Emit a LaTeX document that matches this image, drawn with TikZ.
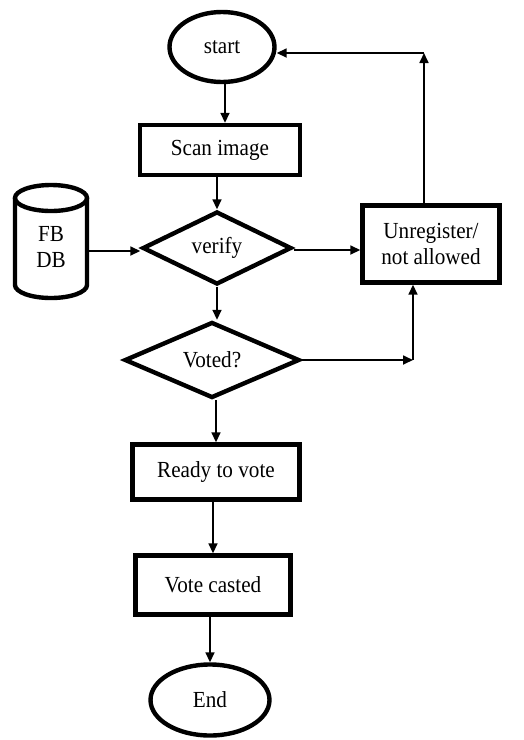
\documentclass[tikz,border=0pt]{standalone}
\usepackage{fontspec}
\setmainfont{Liberation Serif}[FakeStretch=0.92]
\usetikzlibrary{shapes.geometric,arrows.meta}
\begin{document}
\begin{tikzpicture}[x=1pt,y=-1pt,
  every node/.style={font=\fontsize{23}{26}\selectfont, inner sep=0pt},
  term/.style={ellipse, draw, line width=4.4pt},
  procbox/.style={rectangle, draw, line width=4.4pt, align=center},
  decis/.style={diamond, draw, line width=4.4pt, aspect=2},
  arr/.style={line width=1.7pt, -{Triangle[length=10pt,width=9pt]}},
  plain/.style={line width=1.7pt}]
\useasboundingbox (0,0) rectangle (524,740);
\node[term, minimum width=105pt, minimum height=70pt] (start) at (222,47) {start};
\node[procbox, minimum width=160pt, minimum height=50pt] (scan) at (220,150) {Scan image};
\node[decis, minimum width=149pt, minimum height=73pt] (verify) at (217,248) {verify};
\node[procbox, minimum width=137pt, minimum height=77pt] (unreg) at (431,244) {Unregister/\\not allowed};
\node[decis, minimum width=175pt, minimum height=76pt] (voted) at (212,360) {Voted?};
\node[procbox, minimum width=167pt, minimum height=55pt] (ready) at (216,472) {Ready to vote};
\node[procbox, minimum width=155pt, minimum height=59pt] (cast) at (213,585) {Vote casted};
\node[term, minimum width=119pt, minimum height=71pt] (end) at (210,700) {End};
% database cylinder
\node[minimum width=72pt, minimum height=80pt, align=center] (db) at (51,247) {FB\\DB};
\draw[line width=4.4pt] (15,198) -- (15,285) arc[start angle=180, end angle=360, x radius=36pt, y radius=13pt] -- (87,198);
\draw[line width=4.4pt] (51,198) ellipse[x radius=36pt, y radius=13pt];
% connectors
\coordinate (corner) at (424,53);
\coordinate (vright) at (413,360);
\draw[arr] (start.south -| 225,0) -- (scan.north -| 225,0);
\draw[arr] (scan.south -| verify.north) -- (verify.north);
\draw[arr] (db.east |- 0,251) -- (verify.west |- 0,251);
\draw[arr] (verify.east |- 0,250) -- (unreg.west |- 0,250);
\draw[arr] (verify.south) -- (verify.south |- voted.north);
\draw[arr] (voted.east) -- (vright);
\draw[arr] (vright) -- (vright |- unreg.south);
\draw[arr] (corner |- unreg.north) -- (corner);
\draw[arr] (corner) -- (start.east |- corner);
\draw[arr] (voted.south -| ready.north) -- (ready.north);
\draw[arr] (ready.south -| cast.north) -- (cast.north);
\draw[arr] (cast.south -| end.north) -- (end.north);
\end{tikzpicture}
\end{document}
